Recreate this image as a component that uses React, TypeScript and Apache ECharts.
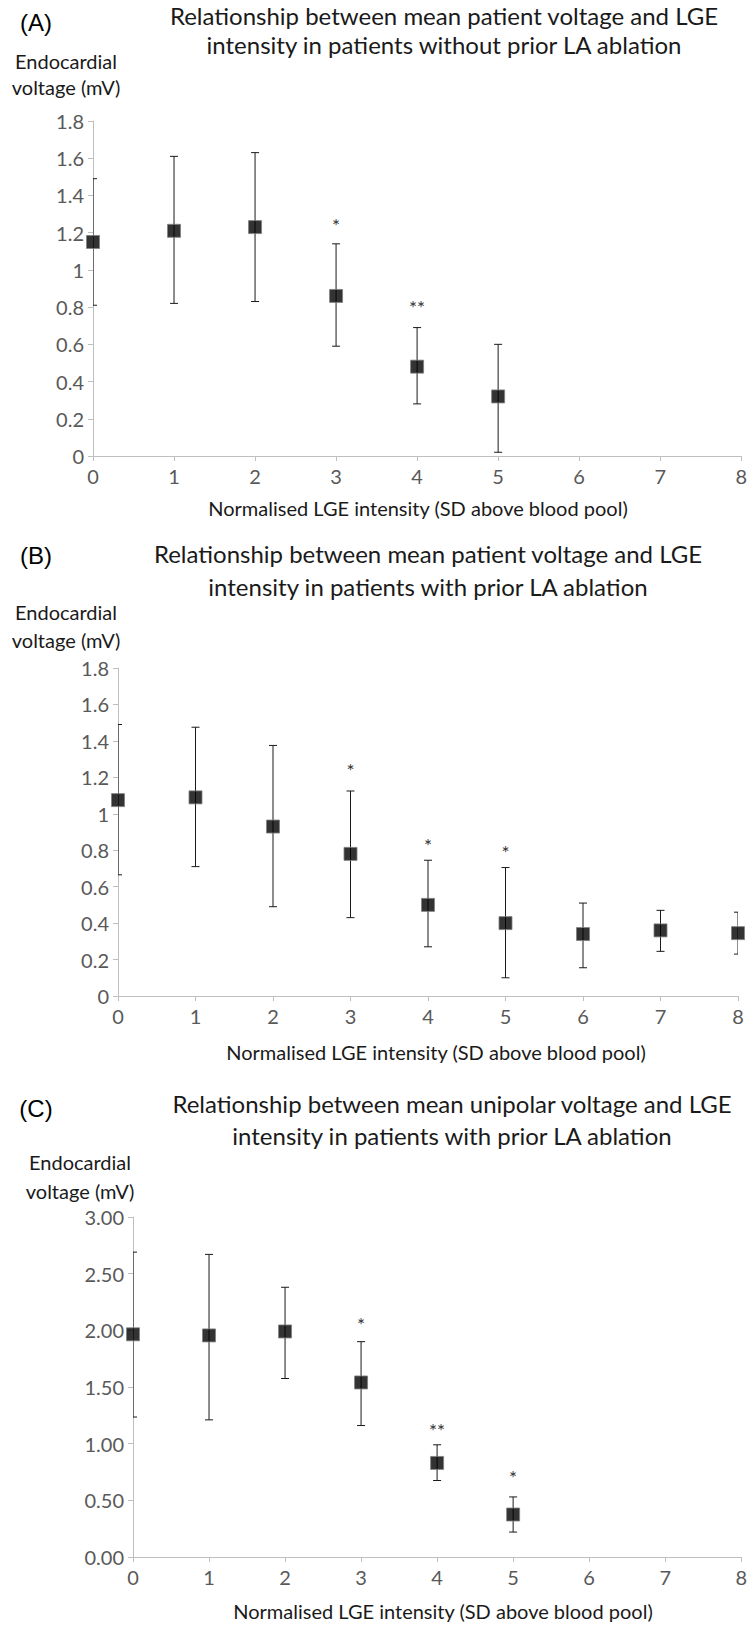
import React, { useEffect, useRef } from "react";
import * as echarts from "echarts";

// ---------- data ----------
const xTicks = [0, 1, 2, 3, 4, 5, 6, 7, 8];

// Panel A: without prior LA ablation (bipolar)
const xA = [0, 1, 2, 3, 4, 5];
const meanA = [1.15, 1.21, 1.23, 0.86, 0.48, 0.32];
const upperA = [1.49, 1.61, 1.63, 1.14, 0.69, 0.6];
const lowerA = [0.81, 0.82, 0.83, 0.59, 0.28, 0.02];
const sigXA = [3, 4];
const sigYA = [1.26, 0.82];
const sigTextA = ["*", "**"];

// Panel B: with prior LA ablation (bipolar)
const xB = [0, 1, 2, 3, 4, 5, 6, 7, 8];
const meanB = [1.075, 1.09, 0.93, 0.78, 0.5, 0.4, 0.34, 0.36, 0.345];
const upperB = [1.49, 1.475, 1.375, 1.125, 0.745, 0.705, 0.51, 0.47, 0.46];
const lowerB = [0.665, 0.71, 0.49, 0.43, 0.27, 0.1, 0.155, 0.245, 0.23];
const sigXB = [3, 4, 5];
const sigYB = [1.26, 0.85, 0.81];
const sigTextB = ["*", "*", "*"];

// Panel C: unipolar voltage, with prior LA ablation
const xC = [0, 1, 2, 3, 4, 5];
const meanC = [1.965, 1.955, 1.99, 1.54, 0.83, 0.375];
const upperC = [2.69, 2.67, 2.38, 1.9, 0.99, 0.53];
const lowerC = [1.235, 1.21, 1.575, 1.16, 0.675, 0.22];
const sigXC = [3, 4, 5];
const sigYC = [2.09, 1.155, 0.735];
const sigTextC = ["*", "**", "*"];

const panelLabels = ["(A)", "(B)", "(C)"];
const titlesLine1 = [
  "Relationship between mean patient voltage and LGE",
  "Relationship between mean patient voltage and LGE",
  "Relationship between mean unipolar voltage and LGE",
];
const titlesLine2 = [
  "intensity in patients without prior LA ablation",
  "intensity in patients with prior LA ablation",
  "intensity in patients with prior LA ablation",
];
const yNameLines = ["Endocardial", "voltage (mV)"];
const xName = "Normalised LGE intensity (SD above blood pool)";

// ---------- styling / layout ----------
const FONT = "Lato";
const AXIS_COLOR = "#bfbfbf";
const LABEL_COLOR = "#595959";
const TEXT_COLOR = "#1a1a1a";

const grids = [
  { left: 93, top: 121, width: 650, height: 335 },
  { left: 118, top: 668, width: 620, height: 328 },
  { left: 133, top: 1217, width: 610, height: 340 },
];
const yMax = [1.8, 1.8, 3];
const yInterval = [0.2, 0.2, 0.5];
const labelPos = [
  { x: 36, y: 22 },
  { x: 36, y: 555 },
  { x: 36, y: 1108 },
];
const titlePos = [
  { x: 444, y1: 15, y2: 44 },
  { x: 428, y1: 553, y2: 586 },
  { x: 452, y1: 1103, y2: 1135 },
];
const yNamePos = [
  { x: 66, y1: 61, y2: 87 },
  { x: 66, y1: 612, y2: 640 },
  { x: 80, y1: 1162, y2: 1191 },
];
const xNamePos = [
  { x: 418, y: 508 },
  { x: 436, y: 1052 },
  { x: 443, y: 1611 },
];

function errorSeries(gi: number, xs: number[], lo: number[], hi: number[]) {
  return {
    type: "custom",
    xAxisIndex: gi,
    yAxisIndex: gi,
    clip: true,
    z: 2,
    data: xs.map((x, i) => [x, lo[i], hi[i]]),
    encode: { x: 0, y: [1, 2] },
    renderItem: (params: any, api: any) => {
      const x = api.value(0);
      const pLo = api.coord([x, api.value(1)]);
      const pHi = api.coord([x, api.value(2)]);
      const w = 4;
      const st = { stroke: "#1a1a1a", lineWidth: 1 };
      return {
        type: "group",
        children: [
          { type: "line", shape: { x1: pHi[0], y1: pHi[1], x2: pLo[0], y2: pLo[1] }, style: st },
          { type: "line", shape: { x1: pHi[0] - w, y1: pHi[1], x2: pHi[0] + w, y2: pHi[1] }, style: st },
          { type: "line", shape: { x1: pLo[0] - w, y1: pLo[1], x2: pLo[0] + w, y2: pLo[1] }, style: st },
        ],
      };
    },
  };
}

function markerSeries(gi: number, xs: number[], ys: number[]) {
  return {
    type: "scatter",
    xAxisIndex: gi,
    yAxisIndex: gi,
    clip: false,
    z: 3,
    symbol: "rect",
    symbolSize: 13,
    itemStyle: { color: "#000", borderColor: "#7f7f7f", borderWidth: 1 },
    data: xs.map((x, i) => [x, ys[i]]),
  };
}

function sigSeries(gi: number, xs: number[], ys: number[], texts: string[]) {
  return {
    type: "custom",
    xAxisIndex: gi,
    yAxisIndex: gi,
    clip: false,
    z: 4,
    data: xs.map((x, i) => [x, ys[i], i]),
    encode: { x: 0, y: 1 },
    renderItem: (params: any, api: any) => {
      const p = api.coord([api.value(0), api.value(1)]);
      const t = texts[api.value(2)];
      return {
        type: "text",
        x: p[0],
        y: p[1] + 4,
        style: {
          text: t,
          fill: "#333",
          fontSize: 19,
          fontFamily: FONT,
          align: "center",
          verticalAlign: "middle",
          textAlign: "center",
          textVerticalAlign: "middle",
        },
      };
    },
  };
}

function txt(x: number, y: number, text: string, size: number, color: string, family = FONT) {
  return {
    type: "text",
    x,
    y,
    silent: true,
    style: {
      text,
      fill: color,
      fontSize: size,
      fontFamily: family,
      align: "center",
      verticalAlign: "middle",
      textAlign: "center",
      textVerticalAlign: "middle",
    },
  };
}

export default function App() {
  const ref = useRef<HTMLDivElement>(null);
  useEffect(() => {
    if (!ref.current) return;
    const chart = echarts.init(ref.current, undefined, { renderer: "svg" });

    const xAxis = grids.map((_, gi) => ({
      gridIndex: gi,
      type: "value",
      min: xTicks[0],
      max: xTicks[xTicks.length - 1],
      interval: 1,
      axisLine: { show: true, lineStyle: { color: AXIS_COLOR, width: 1 } },
      axisTick: { show: true, length: 5, lineStyle: { color: AXIS_COLOR } },
      splitLine: { show: false },
      axisLabel: { color: LABEL_COLOR, fontSize: 20, fontFamily: FONT, margin: 10 },
    }));
    const yAxis = grids.map((_, gi) => ({
      gridIndex: gi,
      type: "value",
      min: 0,
      max: yMax[gi],
      interval: yInterval[gi],
      axisLine: { show: true, lineStyle: { color: AXIS_COLOR, width: 1 } },
      axisTick: { show: true, length: 5, lineStyle: { color: AXIS_COLOR } },
      splitLine: { show: false },
      axisLabel: {
        color: LABEL_COLOR,
        fontSize: 20,
        fontFamily: FONT,
        margin: 9,
        formatter: gi === 2 ? (v: number) => v.toFixed(2) : (v: number) => String(Math.round(v * 10) / 10),
      },
    }));

    const graphics: any[] = [];
    for (let i = 0; i < 3; i++) {
      graphics.push(txt(labelPos[i].x, labelPos[i].y, panelLabels[i], 24, "#000", "Liberation Sans"));
      graphics.push(txt(titlePos[i].x, titlePos[i].y1, titlesLine1[i], 24, TEXT_COLOR));
      graphics.push(txt(titlePos[i].x, titlePos[i].y2, titlesLine2[i], 24, TEXT_COLOR));
      graphics.push(txt(yNamePos[i].x, yNamePos[i].y1, yNameLines[0], 20, TEXT_COLOR));
      graphics.push(txt(yNamePos[i].x, yNamePos[i].y2, yNameLines[1], 20, TEXT_COLOR));
      graphics.push(txt(xNamePos[i].x, xNamePos[i].y, xName, 20, TEXT_COLOR));
    }

    chart.setOption({
      animation: false,
      backgroundColor: "#ffffff",
      grid: grids.map((g) => ({ ...g, containLabel: false })),
      xAxis,
      yAxis,
      graphic: graphics,
      series: [
        errorSeries(0, xA, lowerA, upperA),
        markerSeries(0, xA, meanA),
        sigSeries(0, sigXA, sigYA, sigTextA),
        errorSeries(1, xB, lowerB, upperB),
        markerSeries(1, xB, meanB),
        sigSeries(1, sigXB, sigYB, sigTextB),
        errorSeries(2, xC, lowerC, upperC),
        markerSeries(2, xC, meanC),
        sigSeries(2, sigXC, sigYC, sigTextC),
      ],
    });
    return () => chart.dispose();
  }, []);
  return (
    <div
      ref={ref}
      style={{ position: "absolute", left: 0, top: 0, width: 750, height: 1627, background: "#fff" }}
    />
  );
}
